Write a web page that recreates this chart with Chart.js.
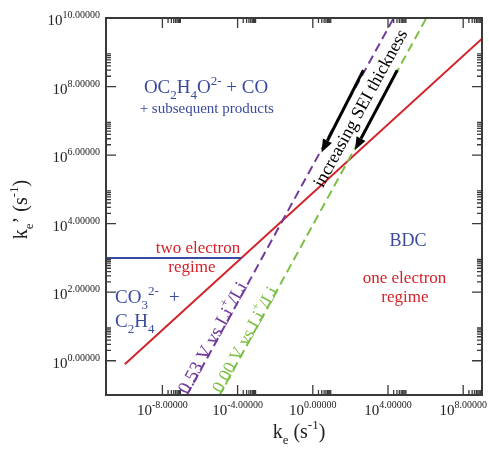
<!DOCTYPE html>
<html>
<head>
<meta charset="utf-8">
<script src="https://cdn.jsdelivr.net/npm/chart.js@4"></script>
<style>
  html, body { margin: 0; padding: 0; background: #fff; }
</style>
</head>
<body>
<canvas id="chart" width="489" height="450"></canvas>
<script>
// tick exponents (labels are 10^e with 5 decimals)
const xTickExp = [-8, -4, 0, 4, 8]
const yTickExp = [0, 2, 4, 6, 8, 10]

// lines
const redX = [1e-10, 1e9]
const redY = [0.79, 2.5e9]
const blueX = [1e-11, 1.6e-4]
const blueY = [1000, 1000]
const purpleX = [2.0e-7, 2.0e4]
const purpleY = [0.1, 1e10]
const greenX = [1.1e-5, 1.1e6]
const greenY = [0.1, 1e10]

// the two "increasing SEI thickness" arrows
const arrowFromX = [490, 3.1e4]
const arrowFromY = [3.0e8, 3.0e8]
const arrowToX = [2.9, 174]
const arrowToY = [1.2e6, 1.4e6]

const RED = '#d2232a', BLUE = '#3a4b9f', PURPLE = '#6f3b9c', GREEN = '#7cbf45'
const SERIF = '"Liberation Serif", "Times New Roman", serif'

const pts = (xs, ys) => xs.map((x, i) => ({ x: x, y: ys[i] }))

// draws text made of normal / sub / sup pieces
function rich(ctx, parts, x, y, size, align) {
  const small = Math.round(size * 0.66)
  let w = 0
  parts.forEach(p => {
    ctx.font = (p[1] ? small : size) + 'px ' + SERIF
    w += ctx.measureText(p[0]).width
  })
  let cx = align === 'center' ? x - w / 2 : align === 'right' ? x - w : x
  ctx.textAlign = 'left'
  parts.forEach(p => {
    const s = p[1] ? small : size
    ctx.font = s + 'px ' + SERIF
    let dy = 0
    if (p[1] === 'sub') dy = size * 0.3
    if (p[1] === 'sup') dy = -size * 0.45
    ctx.fillText(p[0], cx, y + dy)
    cx += ctx.measureText(p[0]).width
  })
}

const notes = [
  // [log x, log y, parts, size, color, align]
  [-5.68, 7.81, [['OC'], ['2', 'sub'], ['H'], ['4', 'sub'], ['O'], ['2-', 'sup'], [' + CO']], 19, BLUE, 'center'],
  [-5.64, 7.24, [['+ subsequent products']], 15, BLUE, 'center'],
  [-6.11, 3.14, [['two electron']], 17, RED, 'center'],
  [-6.43, 2.60, [['regime']], 17, RED, 'center'],
  [-10.52, 1.68, [['CO'], ['3', 'sub'], ['2-', 'sup']], 19, BLUE, 'left'],
  [-7.65, 1.68, [['+']], 19, BLUE, 'left'],
  [-10.52, 0.98, [['C'], ['2', 'sub'], ['H'], ['4', 'sub']], 19, BLUE, 'left'],
  [5.06, 3.35, [['BDC']], 18, BLUE, 'center'],
  [4.88, 2.27, [['one electron']], 17, RED, 'center'],
  [4.90, 1.72, [['regime']], 17, RED, 'center']
]

const sketch = {
  id: 'sketch',
  afterDatasetsDraw(chart) {
    const ctx = chart.ctx
    const a = chart.chartArea
    const xs = chart.scales.x, ys = chart.scales.y
    const X = v => xs.getPixelForValue(v)
    const Y = v => ys.getPixelForValue(v)
    ctx.save()

    // arrows
    ctx.strokeStyle = '#000'
    ctx.fillStyle = '#000'
    ctx.lineWidth = 3
    arrowFromX.forEach((fx, i) => {
      const x0 = X(fx), y0 = Y(arrowFromY[i]), x1 = X(arrowToX[i]), y1 = Y(arrowToY[i])
      const ang = Math.atan2(y1 - y0, x1 - x0)
      const hl = 13, hw = 5
      const bx = x1 - hl * Math.cos(ang), by = y1 - hl * Math.sin(ang)
      ctx.beginPath(); ctx.moveTo(x0, y0); ctx.lineTo(bx, by); ctx.stroke()
      ctx.beginPath()
      ctx.moveTo(x1, y1)
      ctx.lineTo(bx + hw * Math.sin(ang), by - hw * Math.cos(ang))
      ctx.lineTo(bx - hw * Math.sin(ang), by + hw * Math.cos(ang))
      ctx.closePath(); ctx.fill()
    })

    // slope angle of a 1:1 line on this log-log grid
    const lineAng = Math.atan2(Y(10) - Y(1), X(10) - X(1))

    // rotated labels
    ctx.textBaseline = 'alphabetic'
    const rot = (lx, ly, dx, dy, fn) => {
      ctx.save()
      ctx.translate(X(10 ** lx), Y(10 ** ly))
      ctx.rotate(lineAng)
      ctx.translate(dx, dy)
      fn()
      ctx.restore()
    }
    ctx.fillStyle = '#000'
    rot(2.51, 7.37, 0, 6, () => rich(ctx, [['increasing SEI thickness']], 0, 0, 18, 'center'))
    ctx.fillStyle = PURPLE
    rot(0.6 - 5.7, 0.6, 0, 1, () => rich(ctx, [['0.53 V vs Li'], ['+', 'sup'], ['/Li']], 0, 0, 19, 'center'))
    ctx.fillStyle = GREEN
    rot(0.55 - 3.95, 0.55, 0, 1, () => rich(ctx, [['0.00 V vs Li'], ['+', 'sup'], ['/Li']], 0, 0, 18, 'center'))

    // plain labels
    notes.forEach(n => {
      ctx.fillStyle = n[4]
      rich(ctx, n[2], X(10 ** n[0]), Y(10 ** n[1]), n[3], n[5])
    })

    // frame
    ctx.strokeStyle = '#3a3a3a'
    ctx.lineWidth = 2
    ctx.strokeRect(a.left, a.top, a.right - a.left, a.bottom - a.top)

    // ticks on all four sides, pointing inward
    ctx.lineWidth = 1.3
    const major = 10, minor = 5
    const tickX = (px, len) => {
      ctx.beginPath()
      ctx.moveTo(px, a.bottom); ctx.lineTo(px, a.bottom - len)
      ctx.moveTo(px, a.top); ctx.lineTo(px, a.top + len)
      ctx.stroke()
    }
    const tickY = (py, len) => {
      ctx.beginPath()
      ctx.moveTo(a.left, py); ctx.lineTo(a.left + len, py)
      ctx.moveTo(a.right, py); ctx.lineTo(a.right - len, py)
      ctx.stroke()
    }
    xTickExp.forEach(e => {
      tickX(X(10 ** e), major)
      for (let k = 2; k <= 9; k++) tickX(X(k * 10 ** e), minor)
    })
    yTickExp.forEach(e => {
      tickY(Y(10 ** e), major)
      for (let k = 2; k <= 9; k++) {
        const v = k * 10 ** e
        if (v < ys.max) tickY(Y(v), minor)
      }
    })

    // tick labels
    ctx.fillStyle = '#222'
    xTickExp.forEach(e => {
      rich(ctx, [['10'], [e.toFixed(5), 'sup']], X(10 ** e), a.bottom + 20, 15, 'center')
    })
    yTickExp.forEach(e => {
      rich(ctx, [['10'], [e.toFixed(5), 'sup']], a.left - 6, Y(10 ** e) + 7, 15, 'right')
    })

    // axis titles
    rich(ctx, [['k'], ['e', 'sub'], [' (s'], ['-1', 'sup'], [')']], (a.left + a.right) / 2 + 5, 438, 20, 'center')
    ctx.save()
    ctx.translate(27, (a.top + a.bottom) / 2 + 3)
    ctx.rotate(-Math.PI / 2)
    rich(ctx, [['k'], ['e', 'sub'], ['\u2019 (s'], ['-1', 'sup'], [')']], 0, 0, 20, 'center')
    ctx.restore()

    ctx.restore()
  }
}

const line = (data, color, dash) => ({
  data: data,
  borderColor: color,
  borderWidth: 2,
  borderDash: dash || [],
  pointRadius: 0,
  fill: false,
  tension: 0
})

new Chart(document.getElementById('chart').getContext('2d'), {
  type: 'line',
  data: {
    datasets: [
      line(pts(blueX, blueY), BLUE),
      line(pts(purpleX, purpleY), PURPLE, [9, 5]),
      line(pts(greenX, greenY), GREEN, [9, 5]),
      line(pts(redX, redY), RED)
    ]
  },
  options: {
    responsive: false,
    animation: false,
    devicePixelRatio: 1,
    layout: { padding: { left: 106, right: 7, top: 18, bottom: 55 } },
    scales: {
      x: { type: 'logarithmic', min: 1e-11, max: 1e9, display: false },
      y: { type: 'logarithmic', min: 1e-1, max: 1e10, display: false }
    },
    plugins: { legend: { display: false }, tooltip: { enabled: false } }
  },
  plugins: [sketch]
})
</script>
</body>
</html>
